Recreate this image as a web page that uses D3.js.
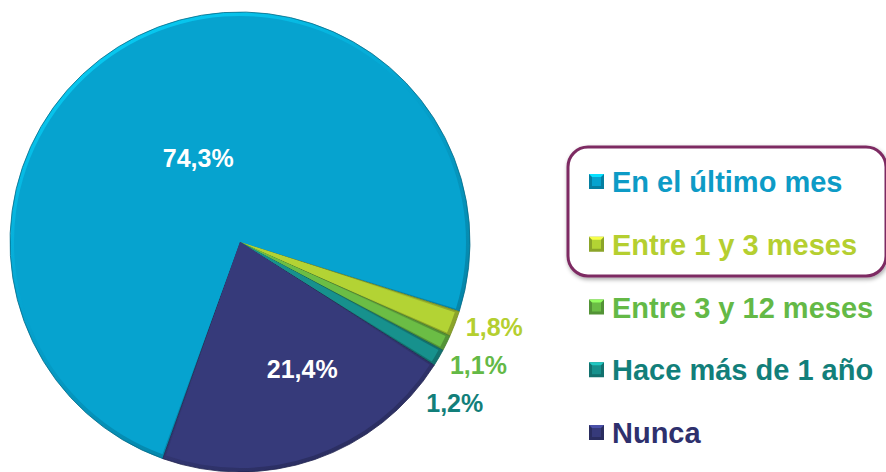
<!DOCTYPE html>
<html>
<head>
<meta charset="utf-8">
<script src="https://cdn.jsdelivr.net/npm/d3@7"></script>
<style>
body { margin: 0; background: #fff; }
svg { display: block; }
text { font-family: "Liberation Sans", Arial, sans-serif; font-weight: 700; }
</style>
</head>
<body>
<svg id="chart" width="886" height="472"></svg>
<script>

// data
var categories = ["En el último mes", "Entre 1 y 3 meses", "Entre 3 y 12 meses", "Hace más de 1 año", "Nunca"];
var values = [74.3, 1.8, 1.1, 1.2, 21.4];
var valueLabels = ["74,3%", "1,8%", "1,1%", "1,2%", "21,4%"];

var fillColors = ["#06a3cf", "#b3d334", "#6bbd45", "#17918d", "#363a7a"];
var textColors = ["#0d9bc6", "#b5cf30", "#64b946", "#127f7a", "#2e306d"];

var width = 886, height = 472;
var cx = 240, cy = 242, radius = 230;

var svg = d3.select("#chart");
var defs = svg.append("defs");

// gradients for the bevel rim
fillColors.forEach(function(c, i) {
	var g = defs.append("linearGradient")
		.attr("id", "rim" + i)
		.attr("x1", 0).attr("y1", 0)
		.attr("x2", 0.6).attr("y2", 1);
	g.append("stop").attr("offset", 0).attr("stop-color", d3.color(c).brighter(0.8));
	g.append("stop").attr("offset", 0.5).attr("stop-color", c);
	g.append("stop").attr("offset", 1).attr("stop-color", d3.color(c).darker(0.7));
});

var shadow = defs.append("filter").attr("id", "shadow")
	.attr("x", "-10%").attr("y", "-10%").attr("width", "130%").attr("height", "140%");
shadow.append("feDropShadow").attr("dx", 1).attr("dy", 2).attr("stdDeviation", 2)
	.attr("flood-color", "#000").attr("flood-opacity", 0.35);

var startDeg = 199.6;
var pie = d3.pie()
	.sort(null)
	.value(function(d) { return d; })
	.startAngle(startDeg * Math.PI / 180)
	.endAngle(startDeg * Math.PI / 180 + 2 * Math.PI);

var arcs = pie(values);

var arcOuter = d3.arc().innerRadius(0).outerRadius(radius);
var arcInner = d3.arc().innerRadius(0).outerRadius(radius - 4)
	.padAngle(0.016).padRadius(radius);

var pieG = svg.append("g").attr("transform", "translate(" + cx + "," + cy + ")");

pieG.selectAll("path.rim").data(arcs).enter().append("path")
	.attr("class", "rim")
	.attr("d", arcOuter)
	.attr("fill", function(d, i) { return "url(#rim" + i + ")"; })
	.attr("stroke", function(d, i) { return d3.color(fillColors[i]).darker(1.2); })
	.attr("stroke-width", 0.8);

pieG.selectAll("path.face").data(arcs).enter().append("path")
	.attr("class", "face")
	.attr("d", arcInner)
	.attr("fill", function(d, i) { return fillColors[i]; });

// labels: big slices inside, small ones outside and spread apart
var insideRadius = { 0: 94, 4: 142 };
var insideShift = { 0: 0, 4: -7 }; // degrees
var outsideRadius = 270, minGap = 38, outsideDrop = 6;

var labelData = arcs.map(function(d, i) {
	var mid = (d.startAngle + d.endAngle) / 2;
	var inside = d.value > 10;
	if (inside) mid += insideShift[i] * Math.PI / 180;
	var r = inside ? insideRadius[i] : outsideRadius;
	return { i: i, inside: inside, x: Math.sin(mid) * r, y: -Math.cos(mid) * r, r: r };
});

var outside = labelData.filter(function(d) { return !d.inside; });
var meanY = d3.mean(outside, function(d) { return d.y; }) + outsideDrop;
outside.forEach(function(d, k) {
	d.y = meanY + (k - (outside.length - 1) / 2) * minGap;
	d.x = Math.sqrt(d.r * d.r - d.y * d.y) - 2;
});

pieG.selectAll("text.val").data(labelData).enter().append("text")
	.attr("class", "val")
	.attr("x", function(d) { return d.x; })
	.attr("y", function(d) { return d.y; })
	.attr("dy", "0.35em")
	.attr("text-anchor", "middle")
	.attr("font-size", 25)
	.attr("fill", function(d) { return d.inside ? "#ffffff" : textColors[d.i]; })
	.text(function(d) { return valueLabels[d.i]; });

// highlight box around first two legend entries
svg.append("rect")
	.attr("x", 568).attr("y", 147)
	.attr("width", 318).attr("height", 129)
	.attr("rx", 20).attr("ry", 20)
	.attr("fill", "#fff")
	.attr("stroke", "#7d2b62")
	.attr("stroke-width", 3)
	.attr("filter", "url(#shadow)");

// legend
var legendY = d3.scalePoint().domain(d3.range(categories.length)).range([192, 443]);

var legend = svg.selectAll("g.legend").data(categories).enter().append("g")
	.attr("class", "legend")
	.attr("transform", function(d, i) { return "translate(589," + legendY(i) + ")"; });

legend.append("rect")
	.attr("x", 0).attr("y", -18)
	.attr("width", 15).attr("height", 15)
	.attr("fill", function(d, i) { return d3.color(fillColors[i]).darker(0.7); });

legend.append("path")
	.attr("d", "M0,-18 L15,-18 L11,-14 L4,-14 Z")
	.attr("fill", function(d, i) { return d3.color(fillColors[i]).brighter(0.9); });

legend.append("rect")
	.attr("x", 3).attr("y", -15)
	.attr("width", 9).attr("height", 9)
	.attr("fill", function(d, i) { return fillColors[i]; });

legend.append("text")
	.attr("x", 23).attr("y", 0)
	.attr("font-size", 29)
	.attr("fill", function(d, i) { return textColors[i]; })
	.text(function(d) { return d; });

</script>
</body>
</html>
